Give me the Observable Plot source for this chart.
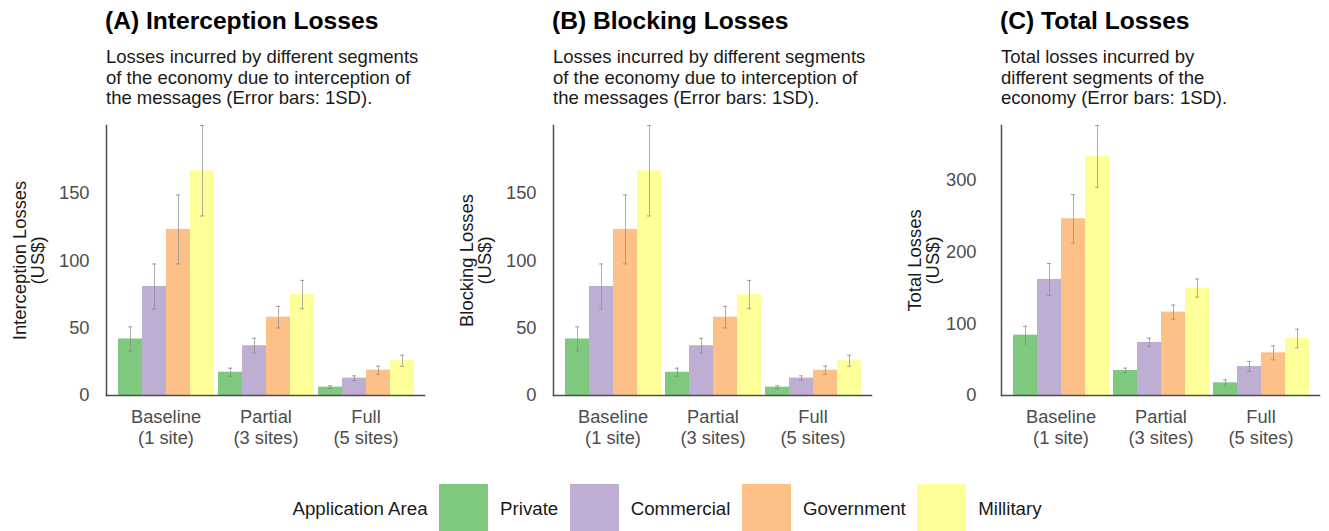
<!DOCTYPE html>
<html><head><meta charset="utf-8">
<script src="https://cdn.jsdelivr.net/npm/d3@7"></script>
<script src="https://cdn.jsdelivr.net/npm/@observablehq/plot@0.6"></script>
<style>
body{margin:0;background:#fff;font-family:"Liberation Sans",Arial,sans-serif;}
#root{position:relative;width:1329px;height:531px;overflow:hidden;background:#fff;}
.title{position:absolute;top:9px;font-size:24.6px;font-weight:bold;line-height:24px;color:#000;white-space:nowrap;}
.sub{position:absolute;top:47px;font-size:18.5px;line-height:20.5px;color:#1a1a1a;white-space:nowrap;}
.chart{position:absolute;top:115px;}
#legend{position:absolute;top:484px;left:292.5px;height:50px;display:flex;align-items:center;font-size:18.7px;color:#1a1a1a;white-space:nowrap;}
#legend .sw{width:49px;height:50px;margin-left:11.5px;margin-right:12px;}
</style></head><body><div id="root"></div>
<script>
const groups = ["Baseline\n(1 site)", "Partial\n(3 sites)", "Full\n(5 sites)"];
const categories = ["Private", "Commercial", "Government", "Millitary"];
const colors = ["#7fc97f", "#beaed4", "#fdc086", "#ffff99"];

// values ordered by group, then category
const interceptionMean = [42, 81, 123.4, 167, 17.3, 37, 58.2, 75, 6.2, 12.9, 18.8, 25.8];
const interceptionSD   = [9, 16.7, 25.6, 33.6, 3, 5.5, 8, 10.5, 1, 1.7, 3, 4.1];
const blockingMean     = [42, 81, 123.4, 167, 17.3, 37, 58.2, 75, 6.2, 12.9, 18.8, 25.8];
const blockingSD       = [9, 16.7, 25.6, 33.6, 3, 5.5, 8, 10.5, 1, 1.7, 3, 4.1];
const totalMean        = [84.2, 161.9, 246.5, 333.5, 34.9, 74, 116.3, 149.8, 17.7, 40.5, 59.5, 79.5];
const totalSD          = [12.3, 22.3, 33.7, 43.1, 3.3, 6, 9.8, 12.6, 4.2, 7, 9.8, 13];

const yTicksAB = [0, 50, 100, 150];
const yTicksC = [0, 100, 200, 300];

const panels = [
  {left: 0, width: 440, ml: 116, mr: 25, il: -11, ir: -10, tl: 105, title: "(A) Interception Losses",
   sub: "Losses incurred by different segments<br>of the economy due to interception of<br>the messages (Error bars: 1SD).",
   label: "Interception Losses\n(US$)", mean: interceptionMean, sd: interceptionSD, ticks: yTicksAB, tp: 28},
  {left: 440, width: 450, ml: 123, mr: 28, il: -11, ir: -10, tl: 552, title: "(B) Blocking Losses",
   sub: "Losses incurred by different segments<br>of the economy due to interception of<br>the messages (Error bars: 1SD).",
   label: "Blocking Losses\n(US$)", mean: blockingMean, sd: blockingSD, ticks: yTicksAB, tp: 28},
  {left: 890, width: 439, ml: 121, mr: 20, il: -11, ir: -10, tl: 1000, title: "(C) Total Losses",
   sub: "Total losses incurred by<br>different segments of the<br>economy (Error bars: 1SD).",
   label: "Total Losses\n(US$)", mean: totalMean, sd: totalSD, ticks: yTicksC, tp: 36}
];

const root = document.getElementById("root");
const ebColor = "#8a8a8a";

for (const p of panels) {
  const rows = [];
  groups.forEach((g, i) => categories.forEach((c, j) => {
    const k = i * categories.length + j;
    rows.push({group: g, cat: c, mean: p.mean[k], sd: p.sd[k]});
  }));
  const ymax = d3.max(rows, d => d.mean + d.sd);
  const chart = Plot.plot({
    width: p.width, height: 340,
    marginTop: 10, marginBottom: 60, marginLeft: p.ml, marginRight: p.mr,
    style: {fontFamily: "Liberation Sans, Arial, sans-serif", fontSize: "18.4px", color: "#4d4d4d", background: "transparent", overflow: "visible"},
    fx: {domain: groups, paddingInner: 0.03, paddingOuter: 0},
    x: {domain: categories, padding: 0, axis: null},
    y: {domain: [0, ymax]},
    color: {domain: categories, range: colors},
    marks: [
      Plot.barY(rows, {fx: "group", x: "cat", y: "mean", fill: "cat"}),
      Plot.ruleX(rows, {fx: "group", x: "cat", y1: d => d.mean - d.sd, y2: d => d.mean + d.sd, stroke: ebColor, strokeOpacity: 0.7, strokeWidth: 1}),
      Plot.tickY(rows, {fx: "group", x: "cat", y: d => d.mean - d.sd, stroke: ebColor, strokeOpacity: 0.8, insetLeft: 10, insetRight: 10}),
      Plot.tickY(rows, {fx: "group", x: "cat", y: d => d.mean + d.sd, stroke: ebColor, strokeOpacity: 0.8, insetLeft: 10, insetRight: 10}),
      Plot.axisFx({anchor: "bottom", tickSize: 0, tickPadding: 13, lineHeight: 1.15, label: null, fontSize: 18.3}),
      Plot.axisY({ticks: p.ticks, tickSize: 0, tickPadding: p.tp, label: null, fontSize: 18.3}),
      Plot.axisY({ticks: [], label: p.label, labelAnchor: "center", labelArrow: "none", labelOffset: 105, color: "#1a1a1a", fontSize: 18.4}),
      Plot.frame({anchor: "left", facet: "super", stroke: "#4d4d4d", strokeWidth: 1.5, insetLeft: p.il}),
      Plot.frame({anchor: "bottom", facet: "super", stroke: "#4d4d4d", strokeWidth: 1.5, insetLeft: p.il, insetRight: p.ir})
    ]
  });
  const t = document.createElement("div");
  t.className = "title"; t.style.left = p.tl + "px"; t.textContent = p.title;
  const s = document.createElement("div");
  s.className = "sub"; s.style.left = (p.tl + 1) + "px"; s.innerHTML = p.sub;
  const c = document.createElement("div");
  c.className = "chart"; c.style.left = p.left + "px";
  c.appendChild(chart);
  root.append(t, s, c);
}

const legend = document.createElement("div");
legend.id = "legend";
const lt = document.createElement("span");
lt.textContent = "Application Area";
legend.appendChild(lt);
categories.forEach((c, i) => {
  const sw = document.createElement("div");
  sw.className = "sw"; sw.style.background = colors[i];
  const lab = document.createElement("span");
  lab.textContent = c;
  legend.append(sw, lab);
});
root.appendChild(legend);
</script>
</body></html>
